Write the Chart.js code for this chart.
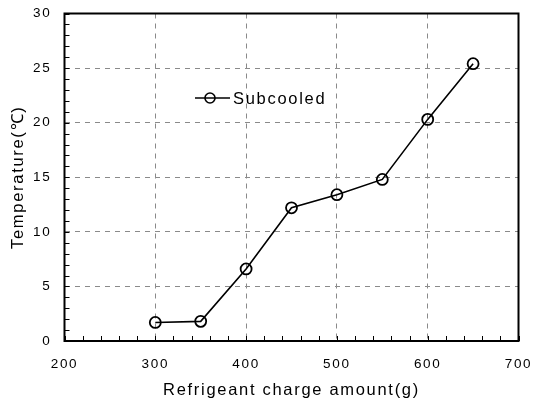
<!DOCTYPE html>
<html>
<head>
<meta charset="utf-8">
<script src="https://cdn.jsdelivr.net/npm/chart.js@4/dist/chart.umd.min.js"></script>
<style>
  html, body { margin: 0; padding: 0; background: #fff; }
  #wrap { width: 533px; height: 400px; }
</style>
</head>
<body>
<div id="wrap"><canvas id="c" width="533" height="400"></canvas></div>
<script>
// ---- data ----
const chargeAmounts = [300, 350, 400, 450, 500, 550, 600, 650];
const subcooledTemps = [1.7, 1.8, 6.6, 12.2, 13.4, 14.8, 20.3, 25.4];
const seriesLabel = 'Subcooled';
const xTickLabels = [200, 300, 400, 500, 600, 700];
const yTickLabels = [0, 5, 10, 15, 20, 25, 30];
const xTitle = 'Refrigeant charge amount(g)';
const yTitle = 'Temperature(\u2103)';

const FONT = '"Liberation Sans", Arial, sans-serif';
const INK = '#000';
const SPACING = '1.7px';

const textSpacing = {
  id: 'textSpacing',
  beforeUpdate(chart) { chart.ctx.letterSpacing = SPACING; },
  beforeDraw(chart) { chart.ctx.letterSpacing = SPACING; }
};

const frameAndTicks = {
  id: 'frameAndTicks',
  afterDatasetsDraw(chart) {
    const {ctx, chartArea: a, scales: {x, y}} = chart;
    ctx.save();
    ctx.strokeStyle = INK;
    ctx.lineWidth = 1;
    x.ticks.forEach(t => {
      const px = Math.round(x.getPixelForValue(t.value)) + 0.5;
      ctx.beginPath(); ctx.moveTo(px, a.bottom); ctx.lineTo(px, a.bottom - 5); ctx.stroke();
    });
    y.ticks.forEach(t => {
      const py = Math.round(y.getPixelForValue(t.value)) + 0.5;
      ctx.beginPath(); ctx.moveTo(a.left, py); ctx.lineTo(a.left + 5, py); ctx.stroke();
    });
    ctx.lineWidth = 2;
    ctx.strokeRect(a.left, a.top, a.right - a.left, a.bottom - a.top);
    // legend
    const ds = chart.data.datasets[0];
    const lx = 195, ly = 98;
    ctx.lineWidth = 1.6;
    ctx.beginPath(); ctx.moveTo(lx, ly); ctx.lineTo(lx + 35, ly); ctx.stroke();
    ctx.beginPath(); ctx.arc(lx + 15, ly, 5, 0, Math.PI * 2); ctx.stroke();
    ctx.fillStyle = INK;
    ctx.font = '16.5px ' + FONT;
    ctx.letterSpacing = SPACING;
    ctx.textBaseline = 'middle';
    ctx.textAlign = 'left';
    ctx.fillText(ds.label, lx + 38, ly + 1);
    ctx.restore();
  }
};

const gridColor = (ctx, step) =>
  (ctx.tick && Math.abs(ctx.tick.value % step) < 1e-9) ? '#8a8a8a' : 'rgba(0,0,0,0)';

new Chart(document.getElementById('c'), {
  type: 'line',
  data: {
    datasets: [{
      label: seriesLabel,
      data: chargeAmounts.map((v, i) => ({x: v, y: subcooledTemps[i]})),
      borderColor: INK,
      borderWidth: 1.6,
      pointRadius: 5.5,
      pointBorderWidth: 1.8,
      pointBackgroundColor: 'rgba(255,255,255,0)',
      pointBorderColor: INK,
      tension: 0
    }]
  },
  options: {
    responsive: false,
    animation: false,
    devicePixelRatio: 1,
    layout: { autoPadding: false, padding: { left: 0, right: 14.5, top: 13.5, bottom: 0 } },
    plugins: { legend: { display: false }, tooltip: { enabled: false } },
    scales: {
      x: {
        type: 'linear',
        min: xTickLabels[0], max: xTickLabels[xTickLabels.length - 1],
        afterFit(s) { s.height = 59; s.paddingLeft = 0; s.paddingRight = 0; },
        border: { display: false, dash: [5, 5] },
        grid: { drawTicks: false, color: c => gridColor(c, 100), lineWidth: 1 },
        ticks: {
          stepSize: 20, autoSkip: false, maxRotation: 0, padding: 15,
          color: INK, font: { family: FONT, size: 13.5 },
          callback: v => xTickLabels.includes(v) ? String(v) : ''
        },
        title: { display: true, text: xTitle, color: INK, font: { family: FONT, size: 16.5 }, padding: { top: 0, bottom: 0 } }
      },
      y: {
        type: 'linear',
        min: yTickLabels[0], max: yTickLabels[yTickLabels.length - 1],
        afterFit(s) { s.width = 64.5; s.paddingTop = 0; s.paddingBottom = 0; },
        border: { display: false, dash: [5, 5] },
        grid: { drawTicks: false, color: c => gridColor(c, 5), lineWidth: 1 },
        ticks: {
          stepSize: 1, autoSkip: false, padding: 13,
          color: INK, font: { family: FONT, size: 13.5 },
          callback: v => yTickLabels.includes(v) ? String(v) : ''
        },
        title: { display: true, text: yTitle, color: INK, font: { family: FONT, size: 16.5 }, padding: { top: 9, bottom: 0 } }
      }
    }
  },
  plugins: [textSpacing, frameAndTicks]
});
</script>
</body>
</html>
